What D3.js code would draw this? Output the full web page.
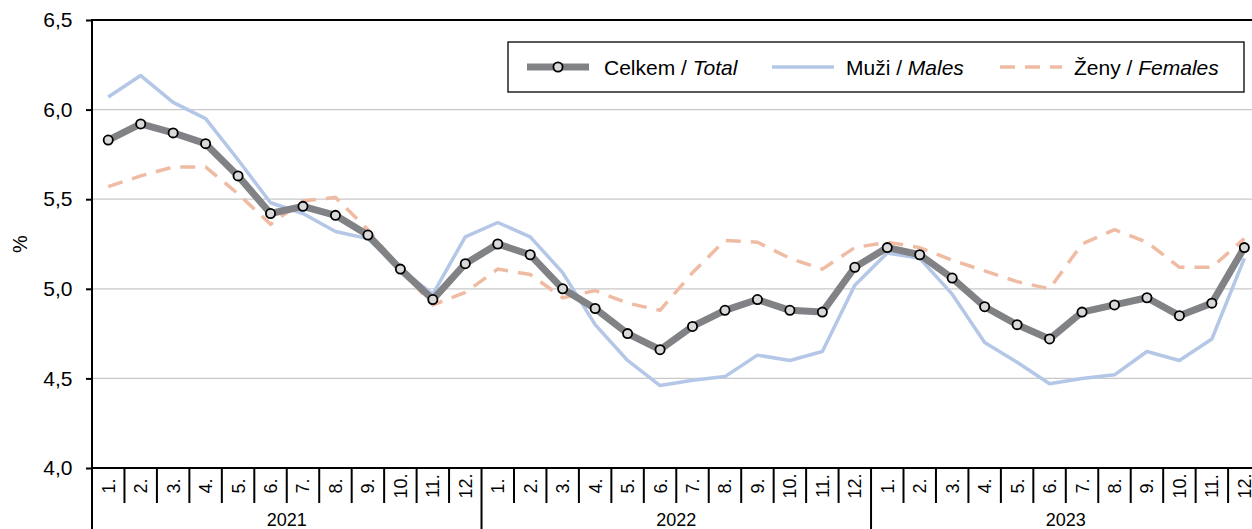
<!DOCTYPE html>
<html><head><meta charset="utf-8">
<script src="https://cdn.jsdelivr.net/npm/d3@7"></script>
<style>body{margin:0;background:#fff}svg{display:block;font-family:"Liberation Sans",Arial,sans-serif}</style>
</head><body><svg id="c" width="1252" height="529"></svg>
<script>
const years = ["2021","2022","2023"];
const months = ["1.","2.","3.","4.","5.","6.","7.","8.","9.","10.","11.","12."];
const total = [5.83,5.92,5.87,5.81,5.63,5.42,5.46,5.41,5.30,5.11,4.94,5.14,
               5.25,5.19,5.00,4.89,4.75,4.66,4.79,4.88,4.94,4.88,4.87,5.12,
               5.23,5.19,5.06,4.90,4.80,4.72,4.87,4.91,4.95,4.85,4.92,5.23];
const males = [6.07,6.19,6.04,5.95,5.72,5.48,5.42,5.32,5.28,5.11,4.97,5.29,
               5.37,5.29,5.09,4.80,4.60,4.46,4.49,4.51,4.63,4.60,4.65,5.02,
               5.20,5.17,4.97,4.70,4.59,4.47,4.50,4.52,4.65,4.60,4.72,5.17];
const females = [5.57,5.63,5.68,5.68,5.53,5.36,5.49,5.51,5.33,5.11,4.91,4.98,
                 5.11,5.08,4.95,4.99,4.92,4.88,5.09,5.27,5.26,5.17,5.11,5.23,
                 5.26,5.23,5.16,5.10,5.04,5.00,5.25,5.33,5.26,5.12,5.12,5.28];
const yTicks = [4.0,4.5,5.0,5.5,6.0,6.5];
const legendLabels = [["Celkem / ","Total"],["Muži / ","Males"],["Ženy / ","Females"]];

const cats = [];
years.forEach(y => months.forEach(m => cats.push(y + "-" + m)));

const svg = d3.select("#c");
const L = 92, T = 20, B = 468, R = 92 + 36 * 32.46;
const x = d3.scaleBand().domain(cats).range([L, R]).paddingInner(0).paddingOuter(0);
const y = d3.scaleLinear().domain([4, 6.5]).range([B, T]);
const cx = d => x(d) + x.bandwidth() / 2;

// grid
svg.append("g").selectAll("line").data(yTicks.filter(v => v > 4 && v < 6.5)).join("line")
  .attr("x1", L).attr("x2", 1252).attr("y1", d => y(d)).attr("y2", d => y(d))
  .attr("stroke", "#c8c8c8").attr("stroke-width", 1.3);

// top border
svg.append("line").attr("x1", L).attr("x2", 1252).attr("y1", y(6.5)).attr("y2", y(6.5))
  .attr("stroke", "#000").attr("stroke-width", 2);

// y axis
const yAxis = d3.axisLeft(y).tickValues(yTicks).tickSize(6)
  .tickFormat(d => d3.format(".1f")(d).replace(".", ","));
const ga = svg.append("g").attr("transform", `translate(${L},0)`).call(yAxis);
ga.select(".domain").remove();
ga.selectAll(".tick line").attr("stroke", "#000").attr("stroke-width", 2);
ga.selectAll(".tick text").attr("font-size", 21).attr("fill", "#000").attr("x", -19.5)
  .attr("font-family", "Liberation Sans, Arial, sans-serif");
svg.append("line").attr("x1", L).attr("x2", L).attr("y1", T - 1).attr("y2", 529)
  .attr("stroke", "#000").attr("stroke-width", 2);

svg.append("text").attr("transform", `translate(27,244) rotate(-90)`)
  .attr("text-anchor", "middle").attr("font-size", 20).text("%");

// x axis
svg.append("line").attr("x1", L).attr("x2", 1252).attr("y1", B).attr("y2", B)
  .attr("stroke", "#000").attr("stroke-width", 2);
svg.append("g").selectAll("line").data(cats.slice(1)).join("line")
  .attr("x1", d => x(d)).attr("x2", d => x(d))
  .attr("y1", B).attr("y2", d => d.endsWith("-1.") ? 529 : 503)
  .attr("stroke", "#000").attr("stroke-width", 2);
svg.append("g").selectAll("text").data(cats).join("text")
  .attr("transform", d => `translate(${cx(d) + 6.5},486) rotate(-90)`)
  .attr("text-anchor", "middle").attr("font-size", 18)
  .text(d => d.split("-")[1]);
svg.append("g").selectAll("text").data(years).join("text")
  .attr("x", d => x(d + "-6.") + x.bandwidth())
  .attr("y", 526).attr("text-anchor", "middle").attr("font-size", 18).text(d => d);

// lines
const line = d3.line().x((d, i) => cx(cats[i])).y(d => y(d));
svg.append("path").datum(males).attr("d", line).attr("fill", "none")
  .attr("stroke", "#b4c7e7").attr("stroke-width", 3.5).attr("stroke-linejoin", "round");
svg.append("path").datum(females).attr("d", line).attr("fill", "none")
  .attr("stroke", "#f0bba3").attr("stroke-width", 3.5).attr("stroke-dasharray", "15,10");
svg.append("path").datum(total).attr("d", line).attr("fill", "none")
  .attr("stroke", "#808285").attr("stroke-width", 7).attr("stroke-linejoin", "round");
svg.append("g").selectAll("circle").data(total).join("circle")
  .attr("cx", (d, i) => cx(cats[i])).attr("cy", d => y(d)).attr("r", 4.6)
  .attr("fill", "#d9d9d9").attr("stroke", "#000").attr("stroke-width", 1.8);

// legend
const lg = svg.append("g");
lg.append("rect").attr("x", 508).attr("y", 42).attr("width", 736).attr("height", 50)
  .attr("fill", "#fff").attr("stroke", "#000").attr("stroke-width", 1.3);
const ly = 67;
const itemX = [527, 772, 1000];
lg.append("line").attr("x1", itemX[0]).attr("x2", itemX[0] + 62).attr("y1", ly).attr("y2", ly)
  .attr("stroke", "#808285").attr("stroke-width", 7);
lg.append("circle").attr("cx", itemX[0] + 31).attr("cy", ly).attr("r", 4.6)
  .attr("fill", "#d9d9d9").attr("stroke", "#000").attr("stroke-width", 1.8);
lg.append("line").attr("x1", itemX[1]).attr("x2", itemX[1] + 62).attr("y1", ly).attr("y2", ly)
  .attr("stroke", "#b4c7e7").attr("stroke-width", 3.5);
lg.append("line").attr("x1", itemX[2]).attr("x2", itemX[2] + 62).attr("y1", ly).attr("y2", ly)
  .attr("stroke", "#f0bba3").attr("stroke-width", 3.5).attr("stroke-dasharray", "15,10");
const textX = [604, 846, 1074];
legendLabels.forEach((lab, i) => {
  const t = lg.append("text").attr("x", textX[i]).attr("y", 75).attr("font-size", 21);
  t.append("tspan").text(lab[0]);
  t.append("tspan").attr("font-style", "italic").text(lab[1]);
});
</script></body></html>
